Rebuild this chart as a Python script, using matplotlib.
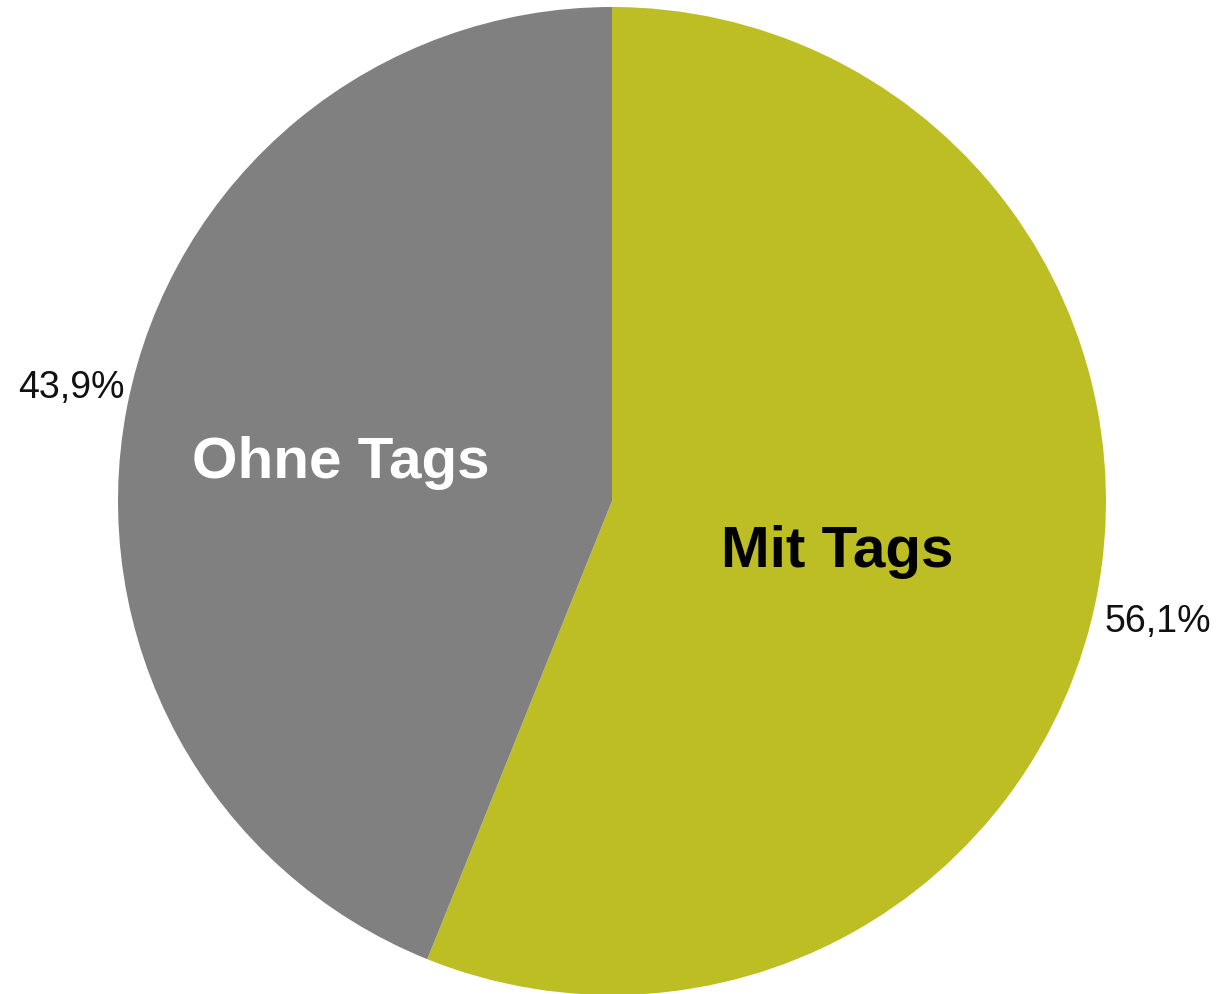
import numpy as np
import matplotlib.pyplot as plt

plt.rcParams['font.family'] = ['Liberation Sans', 'DejaVu Sans']

labels = ['Mit Tags', 'Ohne Tags']
values = [56.1, 43.9]
pct_labels = ['56,1%', '43,9%']
colors = ['#bcbe24', '#808080']
label_colors = ['black', 'white']

# text placement tweaks (radial distance, vertical nudge)
label_dist = [0.465, 0.56]
label_dy = [-0.012, -0.028]
pct_dist = [1.125, 1.115]
pct_dy = [-0.029, 0.019]

fig = plt.figure(figsize=(12.18, 9.95), dpi=100)
ax = fig.add_axes([118 / 1218, -1 / 995, 988 / 1218, 988 / 995])

wedges, _ = ax.pie(values, colors=colors, startangle=90, counterclock=False,
                   radius=1, wedgeprops=dict(linewidth=0))

for i, w in enumerate(wedges):
    mid = np.deg2rad((w.theta1 + w.theta2) / 2)
    d = label_dist[i]
    ax.text(d * np.cos(mid), d * np.sin(mid) + label_dy[i], labels[i],
            ha='center', va='center', fontsize=42, fontweight='bold', color=label_colors[i])
    p = pct_dist[i]
    ax.text(p * np.cos(mid), p * np.sin(mid) + pct_dy[i], pct_labels[i],
            ha='center', va='center', fontsize=27, color='#111111')

ax.set_xlim(-1, 1)
ax.set_ylim(-1, 1)
ax.set_aspect('equal')
ax.axis('off')

fig.savefig('out.png', dpi=100)
